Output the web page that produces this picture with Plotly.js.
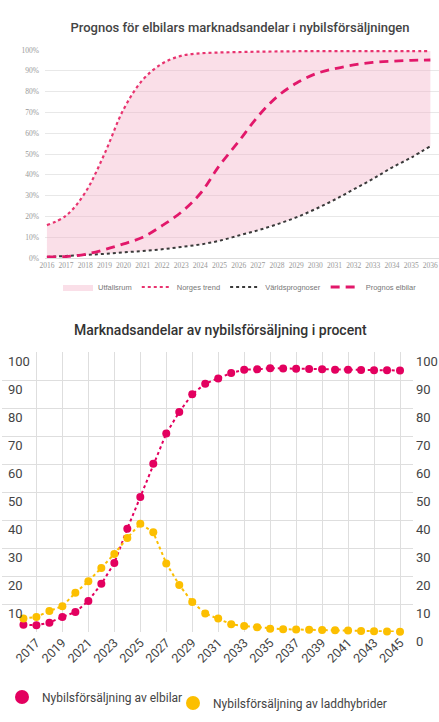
<!DOCTYPE html>
<html>
<head>
<meta charset="utf-8">
<script src="https://cdn.plot.ly/plotly-3.0.1.min.js"></script>
<style>
html,body{margin:0;padding:0;background:#ffffff;}
#chart{width:439px;height:722px;}
</style>
</head>
<body>
<div id="chart"></div>
<script>
// ---- Top chart: Prognos för elbilars marknadsandelar i nybilsförsäljningen ----
const prognosYears = [2016,2017,2018,2019,2020,2021,2022,2023,2024,2025,2026,2027,2028,2029,2030,2031,2032,2033,2034,2035,2036];
const norgesTrend = [15.8,20.4,31.5,50,71.5,85.7,93.4,97.2,98.4,98.8,99,99.2,99.3,99.4,99.5,99.5,99.5,99.5,99.5,99.5,99.5];
const varldsprognoser = [0.5,1,1.5,2,2.7,3.4,4.2,5.3,6.5,8.3,10.8,13.3,16.2,19.5,23.5,28,33,38,43.5,48.3,53.8];
const prognosElbilar = [0.5,0.7,1.8,4,6.8,10,15.5,22,31,44.5,56,68,77.5,84,88.5,91,92.8,94,94.6,95,95.2];
const topYTicks = [0,10,20,30,40,50,60,70,80,90,100];
const topYLabels = ['0%','10%','20%','30%','40%','50%','60%','70%','80%','90%','100%'];

// ---- Bottom chart: Marknadsandelar av nybilsförsäljning i procent ----
const shareYears = [2016,2017,2018,2019,2020,2021,2022,2023,2024,2025,2026,2027,2028,2029,2030,2031,2032,2033,2034,2035,2036,2037,2038,2039,2040,2041,2042,2043,2044,2045];
const elbilar = [2.6,2.4,3.3,5.4,7.1,11.1,17.2,24.6,36.9,48.2,60.1,70.9,78.6,84.9,88.7,90.5,92.5,93.7,93.8,94.2,94.1,94,93.9,93.8,93.7,93.7,93.6,93.5,93.5,93.4];
const laddhybrider = [4.8,5.4,7.5,9.2,14.0,18.1,22.9,27.9,33.6,38.7,35.6,24.5,16.8,10.7,6.6,4.8,2.8,2.1,1.7,1.2,1.0,0.9,0.8,0.7,0.6,0.5,0.4,0.3,0.2,0.1];
const shareXTicks = [2017,2019,2021,2023,2025,2027,2029,2031,2033,2035,2037,2039,2041,2043,2045];
const shareYTicks = [0,10,20,30,40,50,60,70,80,90,100];

const W = 439, H = 722;
const px = v => v / W;
const py = v => 1 - v / H;

const PINK = '#e2186a';
const MAGENTA = '#e3005f';
const YELLOW = '#fcbf00';

const traces = [
  // lower bound of the outcome range (no legend)
  {x: prognosYears, y: varldsprognoser, xaxis:'x', yaxis:'y', mode:'lines',
   line:{width:0, shape:'spline'}, showlegend:false, hoverinfo:'skip'},
  {x: prognosYears, y: norgesTrend, xaxis:'x', yaxis:'y', mode:'lines', name:'Utfallsrum',
   fill:'tonexty', fillcolor:'rgba(242,175,198,0.4)', line:{width:0, shape:'spline'}, legend:'legend'},
  {x: prognosYears, y: norgesTrend, xaxis:'x', yaxis:'y', mode:'lines', name:'Norges trend',
   line:{color:'#e8336f', width:2.2, dash:'dot', shape:'spline'}, legend:'legend'},
  {x: prognosYears, y: varldsprognoser, xaxis:'x', yaxis:'y', mode:'lines', name:'Världsprognoser',
   line:{color:'#3a3a3a', width:2, dash:'dot', shape:'spline'}, legend:'legend'},
  {x: prognosYears, y: prognosElbilar, xaxis:'x', yaxis:'y', mode:'lines', name:'Prognos elbilar',
   line:{color:PINK, width:2.8, dash:'9px,6px', shape:'spline'}, legend:'legend'},

  // bottom chart
  {x: shareYears, y: elbilar, xaxis:'x2', yaxis:'y2', mode:'lines+markers', showlegend:false,
   line:{color:MAGENTA, width:2, dash:'3px,3px'}, marker:{size:8, color:MAGENTA}, cliponaxis:false},
  {x: shareYears, y: laddhybrider, xaxis:'x2', yaxis:'y3', mode:'lines+markers', showlegend:false,
   line:{color:YELLOW, width:2, dash:'3px,3px'}, marker:{size:8, color:YELLOW}, cliponaxis:false},
  // legend entries (big circles)
  {x:[null], y:[null], xaxis:'x2', yaxis:'y2', mode:'markers', name:'Nybilsförsäljning av elbilar',
   marker:{size:14, color:MAGENTA}, legend:'legend2'},
  {x:[null], y:[null], xaxis:'x2', yaxis:'y2', mode:'markers', name:'Nybilsförsäljning av laddhybrider',
   marker:{size:14, color:YELLOW}, legend:'legend3'}
];

const tickFontBottom = {family:'Roboto, sans-serif', size:13, color:'#444'};

const layout = {
  width: W, height: H,
  margin:{l:0, r:0, t:0, b:0},
  paper_bgcolor:'#ffffff', plot_bgcolor:'rgba(0,0,0,0)',
  font:{family:'Roboto, sans-serif', color:'#444'},
  showlegend:true,
  hovermode:false,
  title:{text:'Prognos för elbilars marknadsandelar i nybilsförsäljningen',
         x: px(240), xanchor:'center', y: py(27), yanchor:'middle',
         font:{family:'Roboto, sans-serif', size:13, color:'#444', weight:500}},
  xaxis:{domain:[px(45), 1], range:[2015.9, 2036.45], anchor:'y',
         tickvals: prognosYears, ticks:'', showgrid:false, zeroline:false,
         showline:true, linecolor:'#dddddd', linewidth:1,
         tickfont:{family:'Liberation Serif, serif', size:7.5, color:'#999'}},
  yaxis:{domain:[py(258), py(50)], range:[0,100], anchor:'x',
         tickvals: topYTicks, ticktext: topYLabels, ticks:'',
         gridcolor:'#e8e8e8', gridwidth:1, zeroline:false, showline:false,
         ticklabelstandoff:5,
         tickfont:{family:'Liberation Serif, serif', size:7.5, color:'#999'}},
  xaxis2:{domain:[px(2), px(413)], range:[2014.35, 2046.0], anchor:'y2',
          tickvals: shareXTicks, tickangle:-45, ticks:'',
          gridcolor:'#dedede', gridwidth:1, zeroline:false, showline:false,
          tickfont:{family:'Roboto, sans-serif', size:12.5, color:'#444'}},
  yaxis2:{domain:[py(632), py(352)], range:[0,100], anchor:'x2',
          tickvals: shareYTicks, ticks:'', gridcolor:'#dedede', gridwidth:1,
          zeroline:false, showline:false,
          ticklabelposition:'inside', ticklabelshift:9, ticklabelstandoff:3,
          tickfont: tickFontBottom},
  yaxis3:{overlaying:'y2', side:'right', anchor:'x2', range:[0,100],
          tickvals: shareYTicks, ticks:'', showgrid:false, zeroline:false, showline:false,
          ticklabelshift:9, ticklabelstandoff:2,
          tickfont: tickFontBottom},
  legend:{orientation:'h', x: px(240), xanchor:'center', y: py(287), yanchor:'middle',
          traceorder:'normal',
          font:{family:'Liberation Sans, sans-serif', size:7.5, color:'#777'},
          itemwidth:30, bgcolor:'rgba(0,0,0,0)', tracegroupgap:0},
  legend2:{orientation:'h', x: px(2), xanchor:'left', y: py(697), yanchor:'middle',
           font:{family:'Roboto, sans-serif', size:12, color:'#444'},
           bgcolor:'rgba(0,0,0,0)'},
  legend3:{orientation:'h', x: px(173), xanchor:'left', y: py(703), yanchor:'middle',
           font:{family:'Roboto, sans-serif', size:12, color:'#444'},
           bgcolor:'rgba(0,0,0,0)'},
  annotations:[
    {text:'Marknadsandelar av nybilsförsäljning i procent', xref:'paper', yref:'paper',
     x: px(220), y: py(330), xanchor:'center', yanchor:'middle', showarrow:false,
     font:{family:'Roboto, sans-serif', size:14, color:'#333', weight:500}}
  ]
};

Plotly.newPlot('chart', traces, layout, {staticPlot:true, displayModeBar:false});
</script>
</body>
</html>
